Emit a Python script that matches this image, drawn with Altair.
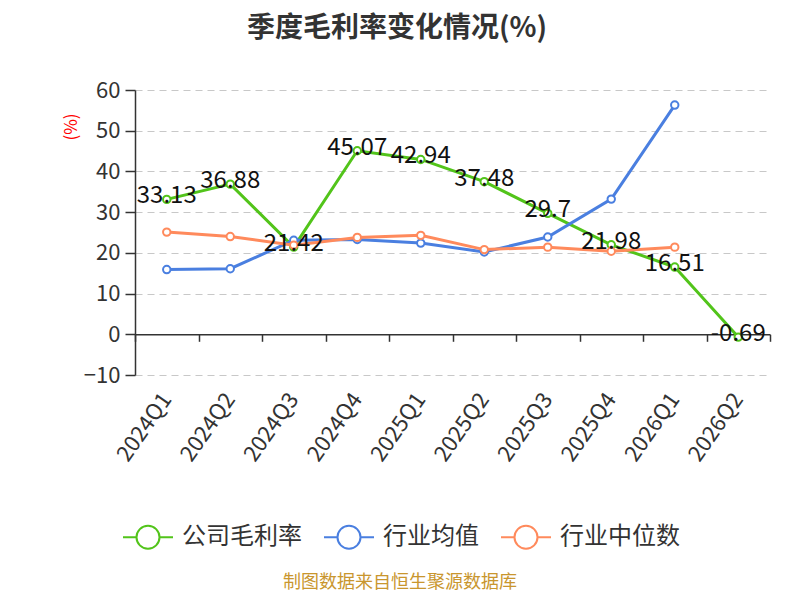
import altair as alt
import pandas as pd

quarters = ["2024Q1", "2024Q2", "2024Q3", "2024Q4", "2025Q1",
            "2025Q2", "2025Q3", "2025Q4", "2026Q1", "2026Q2"]
company = [33.13, 36.88, 21.42, 45.07, 42.94, 37.48, 29.7, 21.98, 16.51, -0.69]
ind_mean = [15.9, 16.1, 23.1, 23.3, 22.4, 20.2, 23.9, 33.2, 56.3, None]
ind_median = [25.1, 24.0, 21.9, 23.8, 24.3, 20.8, 21.4, 20.4, 21.4, None]
series_names = ["公司毛利率", "行业均值", "行业中位数"]
series_colors = ["#52c41a", "#4a7fe0", "#ff8a5c"]
y_ticks = [-10, 0, 10, 20, 30, 40, 50, 60]

title_text = "季度毛利率变化情况(%)"
source_text = "制图数据来自恒生聚源数据库"

rows = []
for name, vals in zip(series_names, [company, ind_mean, ind_median]):
    for q, v in zip(quarters, vals):
        if v is not None:
            rows.append({"quarter": q, "series": name, "value": v, "label": f"{v:g}"})
df = pd.DataFrame(rows)

FONT = "Noto Sans CJK SC"
W, H = 635, 285

xscale = alt.Scale(type="band", paddingInner=0, paddingOuter=0)
yscale = alt.Scale(domain=[-10, 60], nice=False, zero=False)

y_axis = alt.Axis(values=y_ticks, labelFontSize=22, labelColor="#333", labelFont=FONT,
                  domainColor="#333", domainWidth=1.5, tickColor="#333", tickSize=10,
                  tickWidth=1.5, labelPadding=5, gridColor="#c8c8c8", gridDash=[7, 5],
                  gridWidth=1.2, title=None)
y_enc = alt.Y("value:Q", scale=yscale, axis=y_axis)

label_axis = alt.Axis(orient="bottom", labelAngle=-55, labelFontSize=22, labelColor="#333",
                      labelFont=FONT, domain=False, ticks=False, grid=False, title=None,
                      labelPadding=20)
line_axis = alt.Axis(orient="bottom", offset=-40.7, labels=False, domain=True,
                     domainColor="#333", domainWidth=1.5, ticks=True, tickColor="#333",
                     tickSize=7, tickWidth=1.5, tickBand="extent", grid=False, title=None)

PATH = "M-2.5,0L-1.15,0M1.15,0L2.5,0M1.15,0A1.15,1.15,0,1,1,-1.15,0A1.15,1.15,0,1,1,1.15,0"
color_enc = alt.Color(
    "series:N",
    scale=alt.Scale(domain=series_names, range=series_colors),
    legend=alt.Legend(orient="none", legendX=1, legendY=435, direction="horizontal",
                      title=None, symbolType=PATH, symbolSize=400, symbolStrokeWidth=2,
                      symbolFillColor="white", labelFontSize=24, labelColor="#333",
                      labelOffset=22, columnPadding=18, labelFont=FONT),
)

base = alt.Chart(df)
layers = []
for i, name in enumerate(series_names):
    sub = base.transform_filter(alt.datum.series == name)
    ax = label_axis if i == 0 else None
    line = sub.mark_line(strokeWidth=3).encode(
        x=alt.X("quarter:N", sort=quarters, scale=xscale, bandPosition=0.5, axis=ax),
        y=y_enc, color=color_enc)
    pts = sub.mark_point(fill="white", filled=False, size=55, strokeWidth=2, opacity=1).encode(
        x=alt.X("quarter:N", sort=quarters, scale=xscale, bandPosition=0.5, axis=None),
        y=y_enc, color=color_enc)
    layers += [line, pts]

labels = base.transform_filter(alt.datum.series == series_names[0]).mark_text(
    fontSize=24, color="#111", font=FONT, dy=-3).encode(
    x=alt.X("quarter:N", sort=quarters, scale=xscale, bandPosition=0.5, axis=None),
    y=y_enc, text="label:N")

zero_axis = base.mark_point(opacity=0).encode(
    x=alt.X("quarter:N", sort=quarters, scale=xscale, bandPosition=0.5, axis=line_axis),
    y=y_enc)

tdf = pd.DataFrame({"t": [title_text], "s": [source_text], "u": ["(%)"]})
title = alt.Chart(tdf).mark_text(fontSize=28, fontWeight="bold", color="#333", font=FONT).encode(
    x=alt.value(262), y=alt.value(-61), text="t:N")
source = alt.Chart(tdf).mark_text(fontSize=18, color="#c9962e", font=FONT).encode(
    x=alt.value(265), y=alt.value(493), text="s:N")
unit = alt.Chart(tdf).mark_text(fontSize=17, color="#ff0000", font=FONT, angle=270).encode(
    x=alt.value(-63), y=alt.value(37), text="u:N")

chart = alt.layer(zero_axis, *layers, labels, title, source, unit).resolve_axis(
    x="independent").properties(
    width=W, height=H, autosize=alt.AutoSizeParams(type="none"),
    padding={"left": 127, "top": 82, "right": 22, "bottom": 217},
).configure(font=FONT).configure_view(stroke="transparent", strokeWidth=0)

chart.save("out.html", embed_options={"renderer": "svg", "actions": False})
